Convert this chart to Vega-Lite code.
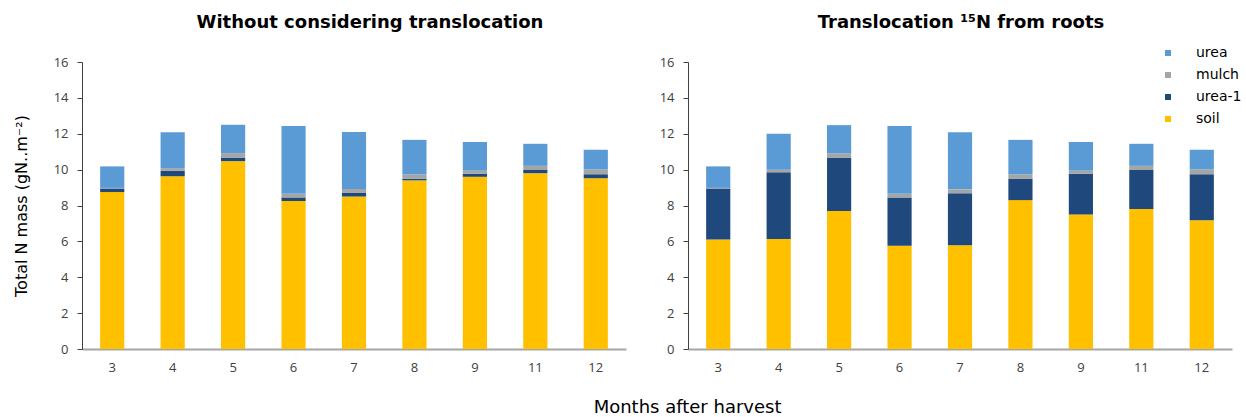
{
  "$schema": "https://vega.github.io/schema/vega-lite/v6.json",
  "background": "white",
  "padding": {"left": 13, "top": 14, "right": 0, "bottom": 0},
  "config": {
    "view": {"stroke": null},
    "font": "DejaVu Sans",
    "concat": {"spacing": 33}
  },
  "title": {
    "text": "Months after harvest",
    "orient": "bottom",
    "anchor": "middle",
    "font": "DejaVu Sans",
    "fontSize": 18,
    "fontWeight": "normal",
    "color": "black",
    "offset": 25,
    "dx": 60
  },
  "resolve": {"scale": {"color": "independent"}},
  "data": {
    "values": [
      {"panel": "A", "month": 3, "component": "soil", "layer": 1, "value": 8.75},
      {"panel": "A", "month": 3, "component": "urea-1", "layer": 2, "value": 0.2},
      {"panel": "A", "month": 3, "component": "mulch", "layer": 3, "value": 0.03},
      {"panel": "A", "month": 3, "component": "urea", "layer": 4, "value": 1.2},
      {"panel": "A", "month": 4, "component": "soil", "layer": 1, "value": 9.63},
      {"panel": "A", "month": 4, "component": "urea-1", "layer": 2, "value": 0.3},
      {"panel": "A", "month": 4, "component": "mulch", "layer": 3, "value": 0.15},
      {"panel": "A", "month": 4, "component": "urea", "layer": 4, "value": 2.0},
      {"panel": "A", "month": 5, "component": "soil", "layer": 1, "value": 10.47},
      {"panel": "A", "month": 5, "component": "urea-1", "layer": 2, "value": 0.2},
      {"panel": "A", "month": 5, "component": "mulch", "layer": 3, "value": 0.25},
      {"panel": "A", "month": 5, "component": "urea", "layer": 4, "value": 1.58},
      {"panel": "A", "month": 6, "component": "soil", "layer": 1, "value": 8.25},
      {"panel": "A", "month": 6, "component": "urea-1", "layer": 2, "value": 0.2},
      {"panel": "A", "month": 6, "component": "mulch", "layer": 3, "value": 0.2},
      {"panel": "A", "month": 6, "component": "urea", "layer": 4, "value": 3.78},
      {"panel": "A", "month": 7, "component": "soil", "layer": 1, "value": 8.5},
      {"panel": "A", "month": 7, "component": "urea-1", "layer": 2, "value": 0.2},
      {"panel": "A", "month": 7, "component": "mulch", "layer": 3, "value": 0.22},
      {"panel": "A", "month": 7, "component": "urea", "layer": 4, "value": 3.18},
      {"panel": "A", "month": 8, "component": "soil", "layer": 1, "value": 9.4},
      {"panel": "A", "month": 8, "component": "urea-1", "layer": 2, "value": 0.1},
      {"panel": "A", "month": 8, "component": "mulch", "layer": 3, "value": 0.23},
      {"panel": "A", "month": 8, "component": "urea", "layer": 4, "value": 1.93},
      {"panel": "A", "month": 9, "component": "soil", "layer": 1, "value": 9.6},
      {"panel": "A", "month": 9, "component": "urea-1", "layer": 2, "value": 0.17},
      {"panel": "A", "month": 9, "component": "mulch", "layer": 3, "value": 0.17},
      {"panel": "A", "month": 9, "component": "urea", "layer": 4, "value": 1.6},
      {"panel": "A", "month": 11, "component": "soil", "layer": 1, "value": 9.8},
      {"panel": "A", "month": 11, "component": "urea-1", "layer": 2, "value": 0.18},
      {"panel": "A", "month": 11, "component": "mulch", "layer": 3, "value": 0.23},
      {"panel": "A", "month": 11, "component": "urea", "layer": 4, "value": 1.23},
      {"panel": "A", "month": 12, "component": "soil", "layer": 1, "value": 9.52},
      {"panel": "A", "month": 12, "component": "urea-1", "layer": 2, "value": 0.22},
      {"panel": "A", "month": 12, "component": "mulch", "layer": 3, "value": 0.27},
      {"panel": "A", "month": 12, "component": "urea", "layer": 4, "value": 1.1},
      {"panel": "B", "month": 3, "component": "soil", "layer": 1, "value": 6.1},
      {"panel": "B", "month": 3, "component": "urea-1", "layer": 2, "value": 2.85},
      {"panel": "B", "month": 3, "component": "mulch", "layer": 3, "value": 0.03},
      {"panel": "B", "month": 3, "component": "urea", "layer": 4, "value": 1.2},
      {"panel": "B", "month": 4, "component": "soil", "layer": 1, "value": 6.13},
      {"panel": "B", "month": 4, "component": "urea-1", "layer": 2, "value": 3.72},
      {"panel": "B", "month": 4, "component": "mulch", "layer": 3, "value": 0.15},
      {"panel": "B", "month": 4, "component": "urea", "layer": 4, "value": 2.0},
      {"panel": "B", "month": 5, "component": "soil", "layer": 1, "value": 7.7},
      {"panel": "B", "month": 5, "component": "urea-1", "layer": 2, "value": 2.95},
      {"panel": "B", "month": 5, "component": "mulch", "layer": 3, "value": 0.25},
      {"panel": "B", "month": 5, "component": "urea", "layer": 4, "value": 1.58},
      {"panel": "B", "month": 6, "component": "soil", "layer": 1, "value": 5.75},
      {"panel": "B", "month": 6, "component": "urea-1", "layer": 2, "value": 2.7},
      {"panel": "B", "month": 6, "component": "mulch", "layer": 3, "value": 0.2},
      {"panel": "B", "month": 6, "component": "urea", "layer": 4, "value": 3.78},
      {"panel": "B", "month": 7, "component": "soil", "layer": 1, "value": 5.78},
      {"panel": "B", "month": 7, "component": "urea-1", "layer": 2, "value": 2.9},
      {"panel": "B", "month": 7, "component": "mulch", "layer": 3, "value": 0.22},
      {"panel": "B", "month": 7, "component": "urea", "layer": 4, "value": 3.18},
      {"panel": "B", "month": 8, "component": "soil", "layer": 1, "value": 8.3},
      {"panel": "B", "month": 8, "component": "urea-1", "layer": 2, "value": 1.2},
      {"panel": "B", "month": 8, "component": "mulch", "layer": 3, "value": 0.23},
      {"panel": "B", "month": 8, "component": "urea", "layer": 4, "value": 1.93},
      {"panel": "B", "month": 9, "component": "soil", "layer": 1, "value": 7.5},
      {"panel": "B", "month": 9, "component": "urea-1", "layer": 2, "value": 2.27},
      {"panel": "B", "month": 9, "component": "mulch", "layer": 3, "value": 0.17},
      {"panel": "B", "month": 9, "component": "urea", "layer": 4, "value": 1.6},
      {"panel": "B", "month": 11, "component": "soil", "layer": 1, "value": 7.8},
      {"panel": "B", "month": 11, "component": "urea-1", "layer": 2, "value": 2.18},
      {"panel": "B", "month": 11, "component": "mulch", "layer": 3, "value": 0.23},
      {"panel": "B", "month": 11, "component": "urea", "layer": 4, "value": 1.23},
      {"panel": "B", "month": 12, "component": "soil", "layer": 1, "value": 7.18},
      {"panel": "B", "month": 12, "component": "urea-1", "layer": 2, "value": 2.56},
      {"panel": "B", "month": 12, "component": "mulch", "layer": 3, "value": 0.27},
      {"panel": "B", "month": 12, "component": "urea", "layer": 4, "value": 1.1}
    ]
  },
  "hconcat": [
    {
      "width": 544,
      "height": 287,
      "title": {
        "text": "Without considering translocation",
        "font": "DejaVu Sans",
        "fontSize": 18,
        "fontWeight": "bold",
        "color": "black",
        "offset": 24,
        "dx": 16
      },
      "transform": [{"filter": "datum.panel == 'A'"}],
      "mark": {"type": "bar"},
      "encoding": {
        "x": {
          "field": "month",
          "type": "ordinal",
          "scale": {"paddingInner": 0.6, "paddingOuter": 0.3},
          "axis": {
            "title": null,
            "labelAngle": 0,
            "domainColor": "#A6A6A6",
            "domainWidth": 2,
            "ticks": false,
            "labelPadding": 12,
            "labelFont": "Open Sans",
            "labelFontSize": 13,
            "labelColor": "#404040"
          }
        },
        "y": {
          "field": "value",
          "type": "quantitative",
          "stack": "zero",
          "scale": {"domain": [0, 16], "nice": false},
          "axis": {
            "values": [0, 2, 4, 6, 8, 10, 12, 14, 16],
            "title": "Total N mass (gN..m⁻²)",
            "titleFont": "DejaVu Sans",
            "titleFontSize": 16,
            "titleFontWeight": "normal",
            "titleColor": "black",
            "titlePadding": 24,
            "grid": false,
            "domainColor": "#404040",
            "tickColor": "#404040",
            "tickSize": 5,
            "labelPadding": 9,
            "labelFont": "Open Sans",
            "labelFontSize": 13,
            "labelColor": "#404040"
          }
        },
        "order": {"field": "layer", "type": "quantitative"},
        "color": {
          "field": "component",
          "type": "nominal",
          "scale": {
            "domain": ["urea", "mulch", "urea-1", "soil"],
            "range": ["#5B9BD5", "#A5A5A5", "#1F497D", "#FFC000"]
          },
          "legend": null
        }
      }
    },
    {
      "width": 544,
      "height": 287,
      "title": {
        "text": "Translocation ¹⁵N from roots",
        "font": "DejaVu Sans",
        "fontSize": 18,
        "fontWeight": "bold",
        "color": "black",
        "offset": 14,
        "dx": 1
      },
      "transform": [{"filter": "datum.panel == 'B'"}],
      "mark": {"type": "bar"},
      "encoding": {
        "x": {
          "field": "month",
          "type": "ordinal",
          "scale": {"paddingInner": 0.6, "paddingOuter": 0.3},
          "axis": {
            "title": null,
            "labelAngle": 0,
            "domainColor": "#A6A6A6",
            "domainWidth": 2,
            "ticks": false,
            "labelPadding": 12,
            "labelFont": "Open Sans",
            "labelFontSize": 13,
            "labelColor": "#404040"
          }
        },
        "y": {
          "field": "value",
          "type": "quantitative",
          "stack": "zero",
          "scale": {"domain": [0, 16], "nice": false},
          "axis": {
            "values": [0, 2, 4, 6, 8, 10, 12, 14, 16],
            "title": null,
            "grid": false,
            "domainColor": "#404040",
            "tickColor": "#404040",
            "tickSize": 5,
            "labelPadding": 9,
            "labelFont": "Open Sans",
            "labelFontSize": 13,
            "labelColor": "#404040"
          }
        },
        "order": {"field": "layer", "type": "quantitative"},
        "color": {
          "field": "component",
          "type": "nominal",
          "scale": {
            "domain": ["urea", "mulch", "urea-1", "soil"],
            "range": ["#5B9BD5", "#A5A5A5", "#1F497D", "#FFC000"]
          },
          "legend": {
            "orient": "none",
            "legendX": 473,
            "legendY": -16,
            "title": null,
            "symbolType": "square",
            "symbolSize": 36,
            "symbolStrokeWidth": 0,
            "labelFont": "DejaVu Sans",
            "labelFontSize": 14,
            "labelColor": "black",
            "labelOffset": 21,
            "rowPadding": 8
          }
        }
      }
    }
  ]
}
